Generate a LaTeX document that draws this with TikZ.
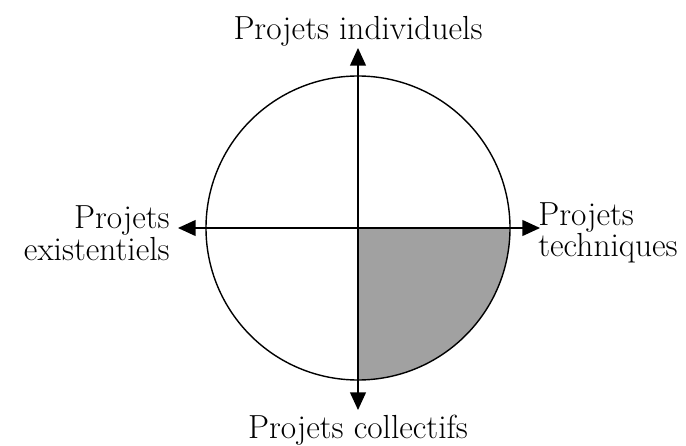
\documentclass[tikz,border=0pt]{standalone}
\usepackage{tikz}
\usetikzlibrary{arrows.meta}
\usetikzlibrary{positioning}
\tikzset{
    axe/.style={
           draw=black, line width=0.8pt,
           -{Triangle[length=10pt, width=9pt]},
           },
}
\tikzset{
    lbl/.style={
           inner sep=0pt,
           font=\fontsize{19}{16.5}\selectfont,
           },
}

\begin{document}
\begin{tikzpicture}[x=0.02cm, y=-0.02cm]
\useasboundingbox (0,0) rectangle (686,446);
\coordinate (c) at (358,228);
\coordinate (n) at (358,48);
\coordinate (s) at (358,410);
\coordinate (w) at (178,228);
\coordinate (e) at (540,228);
\fill[black!37] (c) -- (510,228) arc (0:90:152) -- cycle;
\draw[line width=0.8pt] (c) circle (152);
\draw[axe] (c) -- (n);
\draw[axe] (c) -- (s);
\draw[axe] (c) -- (w);
\draw[axe] (c) -- (e);
\node[lbl, anchor=base] (ind) at (358,40) {Projets individuels};
\node[lbl, anchor=base] (col) at (358,438) {Projets collectifs};
\node[lbl, anchor=east, align=right] (exi) at (170,233) {Projets\\existentiels};
\node[lbl, anchor=west, align=left] (tec) at (538,233) {Projets\\techniques};
\end{tikzpicture}
\end{document}
